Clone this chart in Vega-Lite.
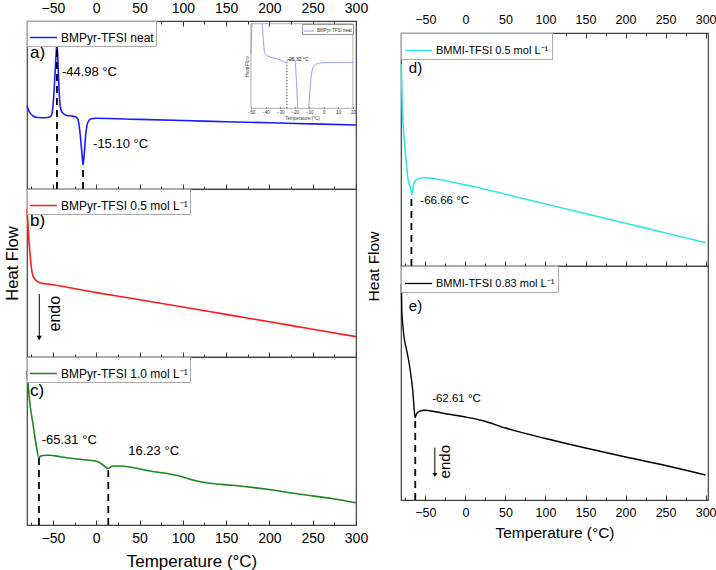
{
  "$schema": "https://vega.github.io/schema/vega-lite/v6.json",
  "padding": {"left": 3, "top": 0, "right": 0, "bottom": 0},
  "config": {
    "font": "Liberation Sans",
    "view": {"stroke": "#404040", "strokeWidth": 1.2},
    "axis": {"grid": false, "domain": false, "labelColor": "#000", "titleColor": "#000", "titleFontWeight": "normal", "tickColor": "#333", "tickWidth": 1, "labelFlush": false, "labelOverlap": false}
  },
  "hconcat": [
    {
      "vconcat": [
        {
          "width": 329, "height": 168,
          "layer": [
            {
              "layer": [
                {
                  "data": {"values": [{"T":-80,"v":83},{"T":-77.8,"v":78},{"T":-73,"v":73},{"T":-67.4,"v":71.5},{"T":-59.3,"v":71.3},{"T":-53.6,"v":72},{"T":-51.3,"v":75},{"T":-49.5,"v":88},{"T":-47.8,"v":113},{"T":-46.3,"v":136},{"T":-45.4,"v":145},{"T":-44.5,"v":133},{"T":-43.4,"v":108},{"T":-42.2,"v":88},{"T":-41,"v":80},{"T":-38.7,"v":76},{"T":-34,"v":73.5},{"T":-28.2,"v":73},{"T":-23.6,"v":72},{"T":-21.3,"v":70},{"T":-19,"v":58},{"T":-17.3,"v":43},{"T":-15.8,"v":28},{"T":-15.3,"v":24},{"T":-14.1,"v":33},{"T":-12.3,"v":53},{"T":-10,"v":66},{"T":-6.4,"v":70},{"T":-0.6,"v":70.7},{"T":50,"v":69.6},{"T":100,"v":68.5},{"T":150,"v":67.3},{"T":200,"v":66.2},{"T":250,"v":65.1},{"T":300,"v":64}]},
                  "mark": {"type": "line", "strokeWidth": 1.6, "interpolate": "monotone"},
                  "encoding": {
                    "x": {"field": "T", "type": "quantitative", "scale": {"domain": [-80, 300], "nice": false, "zero": false},
                      "axis": {"orient": "top", "values": [-50,0,50,100,150,200,250,300], "labelFontSize": 14, "labelPadding": 11, "tickSize": -5, "title": null}},
                    "y": {"field": "v", "type": "quantitative", "scale": {"domain": [0, 168], "nice": false, "zero": false}, "axis": null},
                    "color": {"datum": "BMPyr-TFSI neat", "type": "nominal", "scale": {"range": ["#1a1aff"]},
                      "legend": {"title": null, "orient": "top-left", "offset": 0, "labelFontSize": 12, "symbolSize": 729, "symbolStrokeWidth": 1.5, "padding": 2, "labelOffset": 3, "strokeColor": "#aaaaaa", "fillColor": "white"}}
                  }
                },
                {
                  "data": {"values": [{"T": -45.4, "v": 0, "v2": 140}, {"T": -15.3, "v": 0, "v2": 24}]},
                  "mark": {"type": "rule", "strokeDash": [7, 5], "strokeWidth": 1.8, "color": "#000"},
                  "encoding": {
                    "x": {"field": "T", "type": "quantitative", "axis": {"orient": "bottom", "values": [-50,0,50,100,150,200,250,300], "labels": false, "tickSize": -5, "title": null}},
                    "y": {"field": "v", "type": "quantitative", "axis": null},
                    "y2": {"field": "v2"}
                  }
                },
                {
                  "data": {"values": [{"T": -39.7, "v": 117.3, "txt": "-44.98 °C"}, {"T": -3.7, "v": 44.7, "txt": "-15.10 °C"}]},
                  "mark": {"type": "text", "align": "left", "baseline": "middle", "fontSize": 13, "color": "#000"},
                  "encoding": {
                    "x": {"field": "T", "type": "quantitative", "axis": {"orient": "top", "values": [-75,-25,25,75,125,175,225,275], "labels": false, "tickSize": -3, "title": null}},
                    "y": {"field": "v", "type": "quantitative", "axis": null},
                    "text": {"field": "txt"}
                  }
                },
                {
                  "data": {"values": [{"T": -76.6, "v": 136, "txt": "a)"}]},
                  "mark": {"type": "text", "align": "left", "baseline": "middle", "fontSize": 17, "color": "#000"},
                  "encoding": {
                    "x": {"field": "T", "type": "quantitative", "axis": {"orient": "bottom", "values": [-75,-25,25,75,125,175,225,275], "labels": false, "tickSize": -3, "title": null}},
                    "y": {"field": "v", "type": "quantitative", "axis": null},
                    "text": {"field": "txt"}
                  }
                }
              ],
              "resolve": {"axis": {"x": "independent"}}
            },
            {
              "layer": [
                {
                  "data": {"values": [{"T": -50, "T2": 20, "v": 0, "v2": 100}]},
                  "mark": {"type": "rect", "filled": false, "stroke": "#8a8a8a", "strokeWidth": 0.7},
                  "encoding": {
                    "x": {"field": "T", "type": "quantitative", "scale": {"domain": [-203.7, 22.1], "nice": false, "zero": false},
                      "axis": {"orient": "bottom", "offset": -80.7, "values": [-50,-40,-30,-20,-10,0,10,20], "labelFontSize": 4.5, "labelColor": "#333", "labelPadding": 3, "tickSize": -1.5, "tickColor": "#666", "title": "Temperature (°C)", "titleFontSize": 4.5, "titlePadding": 1, "titleX": 275, "titleColor": "#333"}},
                    "x2": {"field": "T2"},
                    "y": {"field": "v", "type": "quantitative", "scale": {"domain": [-95.4, 103.2], "nice": false, "zero": false},
                      "axis": {"orient": "left", "offset": -224, "labels": false, "ticks": false, "title": "Heat Flow", "titleFontSize": 4.5, "titlePadding": 2, "titleY": 45, "titleColor": "#333"}},
                    "y2": {"field": "v2"}
                  }
                },
                {
                  "data": {"values": [{"seg":1,"T":-50,"v":64.3},{"seg":1,"T":-49.7,"v":80},{"seg":1,"T":-49.3,"v":100},{"seg":2,"T":-42.3,"v":100},{"seg":2,"T":-41.8,"v":88},{"seg":2,"T":-41.2,"v":74},{"seg":2,"T":-40.2,"v":64.3},{"seg":2,"T":-38,"v":61.5},{"seg":2,"T":-35.4,"v":59.9},{"seg":2,"T":-32,"v":58.2},{"seg":2,"T":-28.5,"v":56},{"seg":2,"T":-25.7,"v":54},{"seg":2,"T":-25.1,"v":57},{"seg":2,"T":-23,"v":57.8},{"seg":2,"T":-21.2,"v":57.7},{"seg":2,"T":-19.8,"v":56},{"seg":2,"T":-19.2,"v":45},{"seg":2,"T":-18.8,"v":32},{"seg":2,"T":-18.2,"v":12},{"seg":2,"T":-17.8,"v":0},{"seg":3,"T":-10.3,"v":0},{"seg":3,"T":-9.6,"v":20},{"seg":3,"T":-8.6,"v":38},{"seg":3,"T":-7.5,"v":47.6},{"seg":3,"T":-5.5,"v":51.8},{"seg":3,"T":-2.7,"v":53.6},{"seg":3,"T":0.7,"v":54},{"seg":3,"T":10,"v":54.2},{"seg":3,"T":20,"v":54.2}]},
                  "mark": {"type": "line", "strokeWidth": 0.8, "interpolate": "monotone"},
                  "encoding": {
                    "x": {"field": "T", "type": "quantitative"},
                    "y": {"field": "v", "type": "quantitative"},
                    "detail": {"field": "seg", "type": "nominal"},
                    "color": {"datum": "BMPyr-TFSI neat", "type": "nominal", "scale": {"range": ["#8080ff"]},
                      "legend": {"title": null, "orient": "top-right", "offset": 3, "labelFontSize": 4.5, "symbolSize": 110, "symbolStrokeWidth": 0.8, "padding": 1, "labelOffset": 2, "strokeColor": "#999999", "fillColor": "white", "labelColor": "#333"}}
                  }
                },
                {
                  "data": {"values": [{"T": -25.3, "v": 0, "v2": 54}]},
                  "mark": {"type": "rule", "strokeDash": [1.5, 1.5], "strokeWidth": 0.8, "color": "#222"},
                  "encoding": {"x": {"field": "T", "type": "quantitative"}, "y": {"field": "v", "type": "quantitative"}, "y2": {"field": "v2"}}
                },
                {
                  "data": {"values": [{"T": -25, "v": 58.6, "txt": "-25.32 °C"}]},
                  "mark": {"type": "text", "align": "left", "baseline": "middle", "fontSize": 5, "color": "#222"},
                  "encoding": {"x": {"field": "T", "type": "quantitative"}, "y": {"field": "v", "type": "quantitative"}, "text": {"field": "txt"}}
                }
              ]
            }
          ],
          "resolve": {"scale": {"x": "independent", "y": "independent", "color": "independent"}, "axis": {"x": "independent", "y": "independent"}}
        },
        {
          "width": 329, "height": 168,
          "layer": [
            {
              "data": {"values": [{"T":-80,"v":148},{"T":-77.7,"v":116},{"T":-75.4,"v":93},{"T":-73.1,"v":81},{"T":-69.7,"v":76.7},{"T":-65,"v":74.3},{"T":-53.6,"v":72.7},{"T":0,"v":64.4},{"T":50,"v":57.3},{"T":100,"v":50},{"T":150,"v":42.6},{"T":200,"v":35.2},{"T":250,"v":27.8},{"T":300,"v":20.4}]},
              "mark": {"type": "line", "strokeWidth": 1.6, "interpolate": "monotone"},
              "encoding": {
                "x": {"field": "T", "type": "quantitative", "scale": {"domain": [-80, 300], "nice": false, "zero": false},
                  "axis": {"orient": "bottom", "values": [-50,0,50,100,150,200,250,300], "labels": false, "tickSize": -5, "title": null}},
                "y": {"field": "v", "type": "quantitative", "scale": {"domain": [0, 168], "nice": false, "zero": false},
                  "axis": {"orient": "left", "labels": false, "ticks": false, "title": "Heat Flow", "titleFontSize": 16.5, "titlePadding": 7, "titleY": 74}},
                "color": {"datum": "BMPyr-TFSI 0.5 mol L⁻¹", "type": "nominal", "scale": {"range": ["#ff1a1a"]},
                  "legend": {"title": null, "orient": "top-left", "offset": 0, "labelFontSize": 12, "symbolSize": 729, "symbolStrokeWidth": 1.5, "padding": 2, "labelOffset": 3, "strokeColor": "#aaaaaa", "fillColor": "white"}}
              }
            },
            {
              "data": {"values": [{"T": -65.8, "v": 20, "v2": 63}]},
              "mark": {"type": "rule", "strokeWidth": 1, "color": "#000"},
              "encoding": {
                "x": {"field": "T", "type": "quantitative", "axis": {"orient": "bottom", "values": [-75,-25,25,75,125,175,225,275], "labels": false, "tickSize": -3, "title": null}},
                "y": {"field": "v", "type": "quantitative"}, "y2": {"field": "v2"}}
            },
            {
              "data": {"values": [{"T": -65.8, "v": 19}]},
              "mark": {"type": "point", "shape": "triangle-down", "filled": true, "color": "#000", "opacity": 1, "size": 28},
              "encoding": {"x": {"field": "T", "type": "quantitative", "axis": null}, "y": {"field": "v", "type": "quantitative"}}
            },
            {
              "data": {"values": [{"T": -47.7, "v": 43.3, "txt": "endo"}]},
              "mark": {"type": "text", "angle": 270, "align": "center", "baseline": "middle", "fontSize": 16, "color": "#000"},
              "encoding": {"x": {"field": "T", "type": "quantitative", "axis": null}, "y": {"field": "v", "type": "quantitative"}, "text": {"field": "txt"}}
            },
            {
              "data": {"values": [{"T": -76.6, "v": 136, "txt": "b)"}]},
              "mark": {"type": "text", "align": "left", "baseline": "middle", "fontSize": 17, "color": "#000"},
              "encoding": {"x": {"field": "T", "type": "quantitative", "axis": null}, "y": {"field": "v", "type": "quantitative"}, "text": {"field": "txt"}}
            }
          ],
          "resolve": {"axis": {"x": "independent"}}
        },
        {
          "width": 329, "height": 168,
          "layer": [
            {
              "data": {"values": [{"T":-80,"v":154},{"T":-76.6,"v":121},{"T":-73.1,"v":101},{"T":-69.6,"v":81},{"T":-66.2,"v":67.3},{"T":-63.9,"v":69},{"T":-59.2,"v":69.7},{"T":-53.5,"v":69.7},{"T":-41.9,"v":68.3},{"T":-18.8,"v":65.7},{"T":-7.3,"v":64.7},{"T":2,"v":63.3},{"T":7.7,"v":60},{"T":13.9,"v":56.7},{"T":19.3,"v":59},{"T":27.4,"v":59},{"T":62,"v":54},{"T":100.1,"v":48},{"T":108.2,"v":45.7},{"T":116.3,"v":44},{"T":131.3,"v":41.7},{"T":157.9,"v":39.7},{"T":197.2,"v":35.7},{"T":235.3,"v":30.7},{"T":273.4,"v":26.3},{"T":300,"v":22.3}]},
              "mark": {"type": "line", "strokeWidth": 1.6, "interpolate": "monotone"},
              "encoding": {
                "x": {"field": "T", "type": "quantitative", "scale": {"domain": [-80, 300], "nice": false, "zero": false},
                  "axis": {"orient": "bottom", "values": [-50,0,50,100,150,200,250,300], "labelFontSize": 14, "labelPadding": 11, "tickSize": -5, "title": "Temperature (°C)", "titleFontSize": 17, "titlePadding": 8}},
                "y": {"field": "v", "type": "quantitative", "scale": {"domain": [0, 168], "nice": false, "zero": false}, "axis": null},
                "color": {"datum": "BMPyr-TFSI 1.0 mol L⁻¹", "type": "nominal", "scale": {"range": ["#1a8a1a"]},
                  "legend": {"title": null, "orient": "top-left", "offset": 0, "labelFontSize": 12, "symbolSize": 729, "symbolStrokeWidth": 1.5, "padding": 2, "labelOffset": 3, "strokeColor": "#aaaaaa", "fillColor": "white"}}
              }
            },
            {
              "data": {"values": [{"T": -66.2, "v": 0, "v2": 67}, {"T": 13.9, "v": 0, "v2": 56}]},
              "mark": {"type": "rule", "strokeDash": [7, 5], "strokeWidth": 1.8, "color": "#000"},
              "encoding": {
                "x": {"field": "T", "type": "quantitative", "axis": {"orient": "bottom", "values": [-75,-25,25,75,125,175,225,275], "labels": false, "tickSize": -3, "title": null}},
                "y": {"field": "v", "type": "quantitative", "axis": null}, "y2": {"field": "v2"}}
            },
            {
              "data": {"values": [{"T": -63, "v": 85, "txt": "-65.31 °C"}, {"T": 37, "v": 74, "txt": "16.23 °C"}]},
              "mark": {"type": "text", "align": "left", "baseline": "middle", "fontSize": 13, "color": "#000"},
              "encoding": {"x": {"field": "T", "type": "quantitative", "axis": null}, "y": {"field": "v", "type": "quantitative", "axis": null}, "text": {"field": "txt"}}
            },
            {
              "data": {"values": [{"T": -76.6, "v": 134, "txt": "c)"}]},
              "mark": {"type": "text", "align": "left", "baseline": "middle", "fontSize": 17, "color": "#000"},
              "encoding": {"x": {"field": "T", "type": "quantitative", "axis": null}, "y": {"field": "v", "type": "quantitative", "axis": null}, "text": {"field": "txt"}}
            }
          ],
          "resolve": {"axis": {"x": "independent"}}
        }
      ],
      "spacing": 0,
      "bounds": "flush",
      "resolve": {"scale": {"color": "independent"}}
    },
    {
      "vconcat": [
        {
          "width": 307, "height": 12,
          "data": {"values": []},
          "mark": {"type": "point", "opacity": 0},
          "view": {"stroke": null}
        },
        {
          "width": 307, "height": 233,
          "layer": [
            {
              "data": {"values": [{"T":-80,"v":201.7},{"T":-79.1,"v":165},{"T":-77,"v":132},{"T":-74.1,"v":105},{"T":-72,"v":88.3},{"T":-68.75,"v":78.3},{"T":-66.9,"v":71.7},{"T":-64.5,"v":82.3},{"T":-60.4,"v":86.7},{"T":-51.6,"v":88.3},{"T":-39.1,"v":87.3},{"T":-4.1,"v":81.7},{"T":12.5,"v":79},{"T":50,"v":71.7},{"T":100,"v":62},{"T":150,"v":52.4},{"T":200,"v":42.7},{"T":250,"v":33},{"T":300,"v":23.3}]},
              "mark": {"type": "line", "strokeWidth": 1.6, "interpolate": "monotone"},
              "encoding": {
                "x": {"field": "T", "type": "quantitative", "scale": {"domain": [-80.5, 303], "nice": false, "zero": false},
                  "axis": {"orient": "top", "values": [-50,0,50,100,150,200,250,300], "labelFontSize": 12.5, "labelPadding": 12, "tickSize": -5, "title": null}},
                "y": {"field": "v", "type": "quantitative", "scale": {"domain": [0, 233], "nice": false, "zero": false}, "axis": null},
                "color": {"datum": "BMMI-TFSI 0.5 mol L⁻¹", "type": "nominal", "scale": {"range": ["#33e6e6"]},
                  "legend": {"title": null, "orient": "top-left", "offset": 0, "labelFontSize": 11, "symbolSize": 729, "symbolStrokeWidth": 1.5, "padding": 3, "labelOffset": 3, "strokeColor": "#aaaaaa", "fillColor": "white"}}
              }
            },
            {
              "data": {"values": [{"T": -67.5, "v": 0, "v2": 72}]},
              "mark": {"type": "rule", "strokeDash": [7, 5], "strokeWidth": 1.8, "color": "#000"},
              "encoding": {
                "x": {"field": "T", "type": "quantitative", "axis": {"orient": "bottom", "values": [-50,0,50,100,150,200,250,300], "labels": false, "tickSize": -5, "title": null}},
                "y": {"field": "v", "type": "quantitative", "axis": null}, "y2": {"field": "v2"}}
            },
            {
              "data": {"values": [{"T": -56.3, "v": 65, "txt": "-66.66 °C"}]},
              "mark": {"type": "text", "align": "left", "baseline": "middle", "fontSize": 11.5, "color": "#000"},
              "encoding": {
                "x": {"field": "T", "type": "quantitative", "axis": {"orient": "top", "values": [-75,-25,25,75,125,175,225,275], "labels": false, "tickSize": -3, "title": null}},
                "y": {"field": "v", "type": "quantitative", "axis": null}, "text": {"field": "txt"}}
            },
            {
              "data": {"values": [{"T": -70.75, "v": 198.3, "txt": "d)"}]},
              "mark": {"type": "text", "align": "left", "baseline": "middle", "fontSize": 15, "color": "#000"},
              "encoding": {
                "x": {"field": "T", "type": "quantitative", "axis": {"orient": "bottom", "values": [-75,-25,25,75,125,175,225,275], "labels": false, "tickSize": -3, "title": null}},
                "y": {"field": "v", "type": "quantitative", "axis": null}, "text": {"field": "txt"}}
            }
          ],
          "resolve": {"axis": {"x": "independent"}}
        },
        {
          "width": 307, "height": 234,
          "layer": [
            {
              "data": {"values": [{"T":-80,"v":215.7},{"T":-79.5,"v":189},{"T":-77.9,"v":172.3},{"T":-76.6,"v":162.3},{"T":-74.1,"v":152.3},{"T":-70.8,"v":139},{"T":-68.3,"v":125.7},{"T":-65.8,"v":109},{"T":-64.5,"v":95.7},{"T":-62.9,"v":82.3},{"T":-61.3,"v":85.7},{"T":-58.3,"v":88.3},{"T":-50.4,"v":89.7},{"T":-37.9,"v":88.3},{"T":-20.4,"v":85.7},{"T":0,"v":83},{"T":20.9,"v":79.5},{"T":50,"v":72},{"T":100,"v":61.5},{"T":150,"v":52},{"T":200,"v":43},{"T":250,"v":34.5},{"T":300,"v":25}]},
              "mark": {"type": "line", "strokeWidth": 1.4, "interpolate": "monotone"},
              "encoding": {
                "x": {"field": "T", "type": "quantitative", "scale": {"domain": [-80.5, 303], "nice": false, "zero": false},
                  "axis": {"orient": "bottom", "values": [-50,0,50,100,150,200,250,300], "labelFontSize": 12.5, "labelPadding": 11, "tickSize": -5, "title": "Temperature (°C)", "titleFontSize": 15.5, "titlePadding": 7}},
                "y": {"field": "v", "type": "quantitative", "scale": {"domain": [0, 234], "nice": false, "zero": false},
                  "axis": {"orient": "left", "labels": false, "ticks": false, "title": "Heat Flow", "titleFontSize": 15.5, "titlePadding": 20, "titleY": 0}},
                "color": {"datum": "BMMI-TFSI 0.83 mol L⁻¹", "type": "nominal", "scale": {"range": ["#000000"]},
                  "legend": {"title": null, "orient": "top-left", "offset": 0, "labelFontSize": 11, "symbolSize": 729, "symbolStrokeWidth": 1.3, "padding": 3, "labelOffset": 3, "strokeColor": "#aaaaaa", "fillColor": "white"}}
              }
            },
            {
              "data": {"values": [{"T": -62.7, "v": 0, "v2": 82}]},
              "mark": {"type": "rule", "strokeDash": [7, 5], "strokeWidth": 1.8, "color": "#000"},
              "encoding": {
                "x": {"field": "T", "type": "quantitative", "axis": {"orient": "bottom", "values": [-75,-25,25,75,125,175,225,275], "labels": false, "tickSize": -3, "title": null}},
                "y": {"field": "v", "type": "quantitative"}, "y2": {"field": "v2"}}
            },
            {
              "data": {"values": [{"T": -38.25, "v": 26, "v2": 52.3}]},
              "mark": {"type": "rule", "strokeWidth": 1, "color": "#000"},
              "encoding": {"x": {"field": "T", "type": "quantitative", "axis": null}, "y": {"field": "v", "type": "quantitative"}, "y2": {"field": "v2"}}
            },
            {
              "data": {"values": [{"T": -38.25, "v": 25}]},
              "mark": {"type": "point", "shape": "triangle-down", "filled": true, "color": "#000", "opacity": 1, "size": 24},
              "encoding": {"x": {"field": "T", "type": "quantitative", "axis": null}, "y": {"field": "v", "type": "quantitative"}}
            },
            {
              "data": {"values": [{"T": -25, "v": 38.3, "txt": "endo"}]},
              "mark": {"type": "text", "angle": 270, "align": "center", "baseline": "middle", "fontSize": 15, "color": "#000"},
              "encoding": {"x": {"field": "T", "type": "quantitative", "axis": null}, "y": {"field": "v", "type": "quantitative"}, "text": {"field": "txt"}}
            },
            {
              "data": {"values": [{"T": -41.6, "v": 100.7, "txt": "-62.61 °C"}]},
              "mark": {"type": "text", "align": "left", "baseline": "middle", "fontSize": 11.5, "color": "#000"},
              "encoding": {"x": {"field": "T", "type": "quantitative", "axis": null}, "y": {"field": "v", "type": "quantitative"}, "text": {"field": "txt"}}
            },
            {
              "data": {"values": [{"T": -70.75, "v": 194, "txt": "e)"}]},
              "mark": {"type": "text", "align": "left", "baseline": "middle", "fontSize": 15, "color": "#000"},
              "encoding": {"x": {"field": "T", "type": "quantitative", "axis": null}, "y": {"field": "v", "type": "quantitative"}, "text": {"field": "txt"}}
            }
          ],
          "resolve": {"axis": {"x": "independent"}}
        }
      ],
      "spacing": 0,
      "bounds": "flush",
      "resolve": {"scale": {"color": "independent"}}
    }
  ],
  "spacing": -4,
  "resolve": {"scale": {"color": "independent"}}
}
